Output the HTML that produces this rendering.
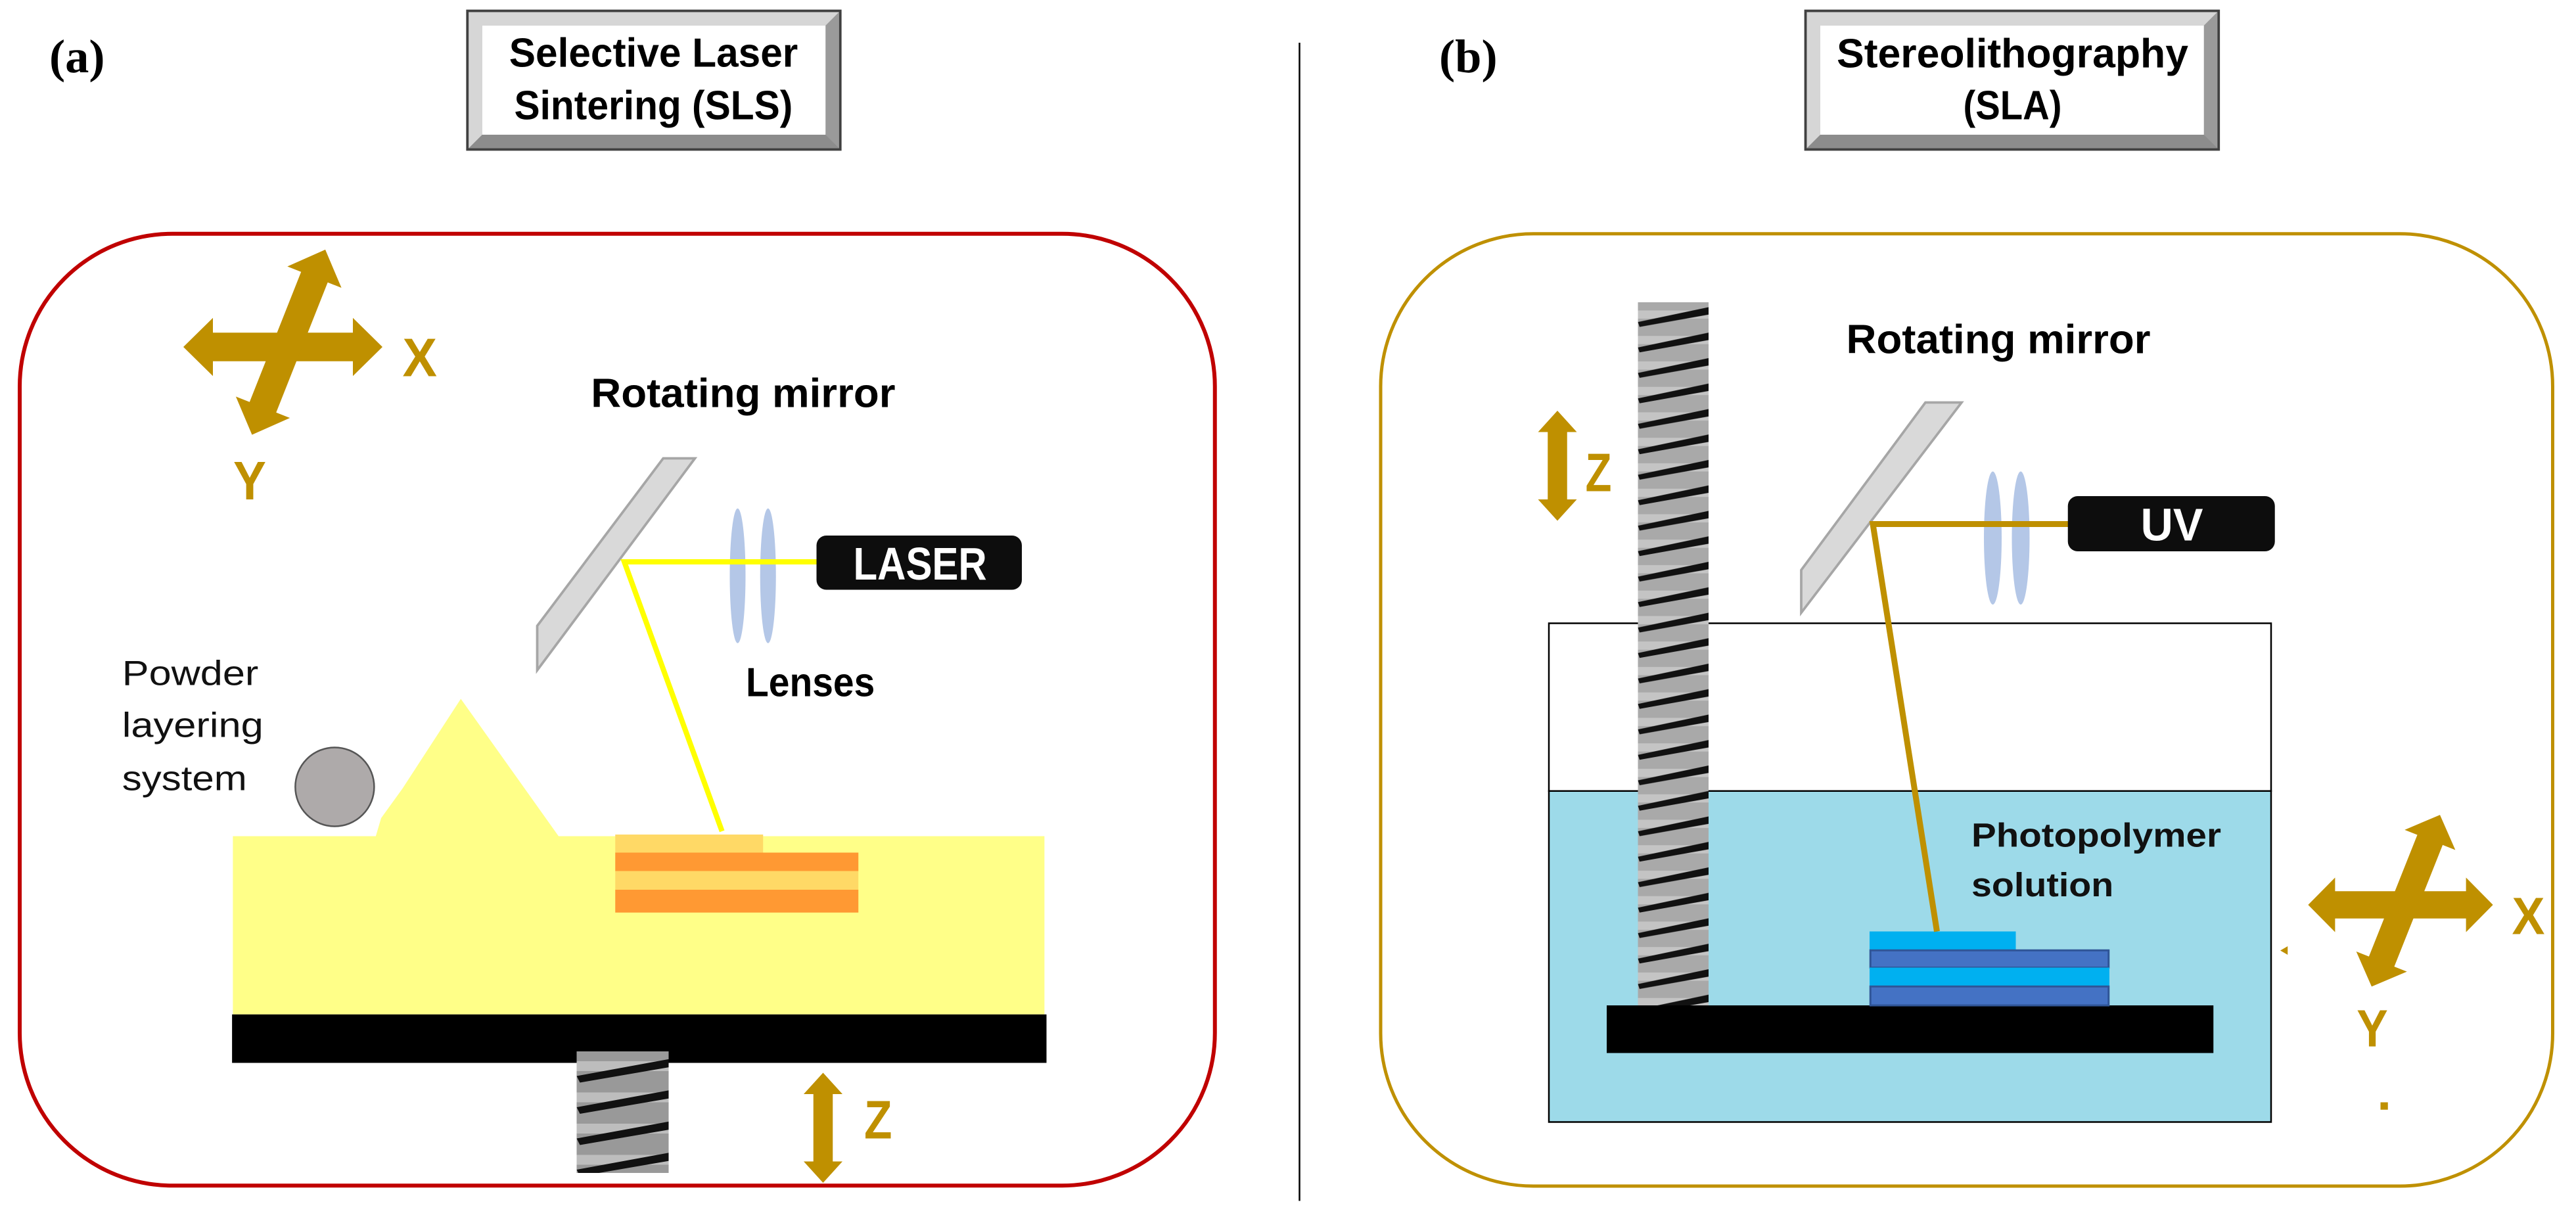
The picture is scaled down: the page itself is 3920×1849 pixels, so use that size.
<!DOCTYPE html>
<html><head><meta charset="utf-8"><style>
html,body{margin:0;padding:0;background:#fff;}
svg{display:block;}
text{font-family:"Liberation Sans",sans-serif;}
</style></head><body>
<svg width="3920" height="1849" viewBox="0 0 1568 739.6" preserveAspectRatio="none" xmlns="http://www.w3.org/2000/svg">
<defs>
<pattern id="thr" x="997" y="184" width="43" height="15.5" patternUnits="userSpaceOnUse">
<rect width="43" height="15.5" fill="#a9a9a9"/>
<rect y="5" width="43" height="5" fill="#c4c4c4"/>
<polygon points="0,12 43,3 43,7.5 1,15" fill="#111"/>
</pattern>
<pattern id="thr2" x="351" y="640" width="60" height="19" patternUnits="userSpaceOnUse">
<rect width="60" height="19" fill="#999"/>
<rect y="6" width="60" height="6" fill="#bdbdbd"/>
<polygon points="0,15 60,4 60,9 2,19" fill="#111"/>
</pattern>
</defs>
<rect width="1568" height="739.6" fill="#fff"/>

<line x1="791" y1="26" x2="791" y2="731" stroke="#000" stroke-width="1"/>

<text x="30" y="44" font-weight="bold" font-size="29" style="font-family:'Liberation Serif',serif">(a)</text>
<text x="876" y="44" font-weight="bold" font-size="29" style="font-family:'Liberation Serif',serif">(b)</text>

<rect x="284.5" y="6.6" width="227" height="84.4" fill="#8c8c8c" stroke="#404040" stroke-width="1.5"/>
<polygon points="285.3,7.4 510.7,7.4 502.5,15.6 293.5,15.6 293.5,82 285.3,90.2" fill="#d6d6d6"/>
<polygon points="510.7,7.4 510.7,90.2 502.5,82 502.5,15.6" fill="#9a9a9a"/>
<rect x="293.5" y="15.6" width="209" height="66.4" fill="#fff"/>
<text x="309.9" y="40.6" font-weight="bold" font-size="25" textLength="175.8" lengthAdjust="spacingAndGlyphs">Selective Laser</text>
<text x="313" y="72.5" font-weight="bold" font-size="25" textLength="169.5" lengthAdjust="spacingAndGlyphs">Sintering (SLS)</text>

<rect x="1099" y="6.6" width="251.5" height="84.4" fill="#8c8c8c" stroke="#404040" stroke-width="1.5"/>
<polygon points="1099.8,7.4 1349.7,7.4 1341.5,15.6 1108,15.6 1108,82 1099.8,90.2" fill="#d6d6d6"/>
<polygon points="1349.7,7.4 1349.7,90.2 1341.5,82 1341.5,15.6" fill="#9a9a9a"/>
<rect x="1108" y="15.6" width="233.5" height="66.4" fill="#fff"/>
<text x="1118" y="41" font-weight="bold" font-size="25" textLength="214" lengthAdjust="spacingAndGlyphs">Stereolithography</text>
<text x="1195" y="72.5" font-weight="bold" font-size="25" textLength="60" lengthAdjust="spacingAndGlyphs">(SLA)</text>

<rect x="12" y="142.3" width="727.5" height="579.4" rx="93" ry="93" fill="none" stroke="#c00000" stroke-width="2.4"/>
<rect x="840.4" y="142.3" width="713.4" height="579.7" rx="93" ry="93" fill="none" stroke="#bf9000" stroke-width="2"/>

<g fill="#bf9000">
<polygon transform="translate(172.2,211.2)" points="-60.6,0 -42.6,-17.7 -42.6,-8.7 42.6,-8.7 42.6,-17.7 60.6,0 42.6,17.7 42.6,8.7 -42.6,8.7 -42.6,17.7"/>
<polygon transform="translate(175.7,208.3) rotate(-68.4)" points="-60.6,0 -42.6,-17.7 -42.6,-8.7 42.6,-8.7 42.6,-17.7 60.6,0 42.6,17.7 42.6,8.7 -42.6,8.7 -42.6,17.7"/>
<polygon transform="translate(501,686.5) rotate(90)" points="-33.5,0 -20.5,-11.8 -20.5,-5.9 20.5,-5.9 20.5,-11.8 33.5,0 20.5,11.8 20.5,5.9 -20.5,5.9 -20.5,11.8"/>
</g>
<g fill="#bf9000" font-weight="bold">
<text x="245" y="229" font-size="33" textLength="21" lengthAdjust="spacingAndGlyphs">X</text>
<text x="142" y="304" font-size="33" textLength="20" lengthAdjust="spacingAndGlyphs">Y</text>
<text x="526" y="693" font-size="33" textLength="17" lengthAdjust="spacingAndGlyphs">Z</text>
</g>

<text x="359.7" y="247.8" font-weight="bold" font-size="24.7" textLength="185.3" lengthAdjust="spacingAndGlyphs">Rotating mirror</text>

<polygon points="403.7,279 423,279 327,408 327,381" fill="#d9d9d9" stroke="#a6a6a6" stroke-width="1.5"/>

<ellipse cx="449" cy="350.5" rx="4.8" ry="41" fill="#b4c7e7"/>
<ellipse cx="467.5" cy="350.5" rx="4.8" ry="41" fill="#b4c7e7"/>

<polyline points="497,342 380,342 439.5,506" fill="none" stroke="#ffff00" stroke-width="3.2"/>

<rect x="497" y="326" width="125" height="33" rx="6" fill="#0d0d0d"/>
<text x="519.4" y="352.8" fill="#fff" font-weight="bold" font-size="28" textLength="81.3" lengthAdjust="spacingAndGlyphs">LASER</text>

<text x="454" y="423.7" font-weight="bold" font-size="24.7" textLength="78.5" lengthAdjust="spacingAndGlyphs">Lenses</text>

<text x="74.3" y="417" font-size="21" fill="#111" textLength="83" lengthAdjust="spacingAndGlyphs">Powder</text>
<text x="74.3" y="448.5" font-size="21" fill="#111" textLength="86" lengthAdjust="spacingAndGlyphs">layering</text>
<text x="74.3" y="481" font-size="21" fill="#111" textLength="76" lengthAdjust="spacingAndGlyphs">system</text>

<circle cx="203.75" cy="479" r="24" fill="#aeaaaa" stroke="#555" stroke-width="1"/>

<polygon points="141.75,509 228.75,509 232,498 245,480 280.5,425.4 340,509 635.75,509 635.75,617.5 141.75,617.5" fill="#ffff88"/>
<rect x="374.5" y="508" width="90" height="11" fill="#ffd966"/>
<rect x="374.5" y="519" width="148" height="11.3" fill="#ff9933"/>
<rect x="374.5" y="530.3" width="148" height="11.3" fill="#ffd966"/>
<rect x="374.5" y="541.6" width="148" height="13.9" fill="#ff9933"/>

<rect x="141.25" y="617.5" width="495.75" height="29.5" fill="#000"/>
<rect x="351" y="640" width="56" height="74" fill="url(#thr2)"/>

<rect x="942.8" y="379.4" width="439.6" height="102.1" fill="#fff" stroke="#000" stroke-width="1"/>
<rect x="942.8" y="481.5" width="439.6" height="201.5" fill="#9ddae9" stroke="#000" stroke-width="1"/>

<rect x="997" y="184" width="43" height="428" fill="url(#thr)"/>

<rect x="978" y="612" width="369.3" height="29" fill="#000"/>

<rect x="1138" y="567" width="89" height="11" fill="#00b0f0"/>
<rect x="1138.5" y="578.5" width="145" height="10.5" fill="#4472c4" stroke="#2f5597" stroke-width="1.2"/>
<rect x="1138" y="589" width="146" height="11" fill="#00b0f0"/>
<rect x="1138.5" y="600.5" width="145" height="11.5" fill="#4472c4" stroke="#2f5597" stroke-width="1.2"/>

<polygon fill="#bf9000" transform="translate(948,283.5) rotate(90)" points="-33.5,0 -20.5,-11.8 -20.5,-5.9 20.5,-5.9 20.5,-11.8 33.5,0 20.5,11.8 20.5,5.9 -20.5,5.9 -20.5,11.8"/>
<text x="965" y="299" fill="#bf9000" font-weight="bold" font-size="33" textLength="16" lengthAdjust="spacingAndGlyphs">Z</text>

<text x="1123.8" y="215" font-weight="bold" font-size="24.7" textLength="185.2" lengthAdjust="spacingAndGlyphs">Rotating mirror</text>

<polygon points="1172,245 1194,245 1096.4,373 1096.4,347" fill="#d9d9d9" stroke="#a6a6a6" stroke-width="1.5"/>

<ellipse cx="1213" cy="327.5" rx="5.4" ry="40.5" fill="#b4c7e7"/>
<ellipse cx="1230" cy="327.5" rx="5.4" ry="40.5" fill="#b4c7e7"/>

<polyline points="1259,319 1140,319 1179,567" fill="none" stroke="#bf9000" stroke-width="3.6"/>

<rect x="1258.7" y="302" width="126" height="33.6" rx="6" fill="#0d0d0d"/>
<text x="1303" y="329" fill="#fff" font-weight="bold" font-size="28" textLength="38" lengthAdjust="spacingAndGlyphs">UV</text>

<text x="1200" y="515.4" font-weight="bold" font-size="20.5" textLength="152" lengthAdjust="spacingAndGlyphs" fill="#111">Photopolymer</text>
<text x="1200" y="545.6" font-weight="bold" font-size="20.5" textLength="86.5" lengthAdjust="spacingAndGlyphs" fill="#111">solution</text>

<g fill="#bf9000">
<polygon transform="translate(1461.2,550.8)" points="-56.25,0 -39.85,-16.6 -39.85,-8.3 39.85,-8.3 39.85,-16.6 56.25,0 39.85,16.6 39.85,8.3 -39.85,8.3 -39.85,16.6"/>
<polygon transform="translate(1464.4,548.3) rotate(-68.3)" points="-56.25,0 -39.85,-16.6 -39.85,-8.3 39.85,-8.3 39.85,-16.6 56.25,0 39.85,16.6 39.85,8.3 -39.85,8.3 -39.85,16.6"/>
<rect x="1449" y="671" width="4.5" height="4.5"/>
<polygon points="1388,578.6 1392.5,576 1392.5,581.2"/>
</g>
<g fill="#bf9000" font-weight="bold">
<text x="1529" y="568.5" font-size="32" textLength="20" lengthAdjust="spacingAndGlyphs">X</text>
<text x="1434.5" y="637" font-size="32" textLength="19" lengthAdjust="spacingAndGlyphs">Y</text>
</g>
</svg>
</body></html>
